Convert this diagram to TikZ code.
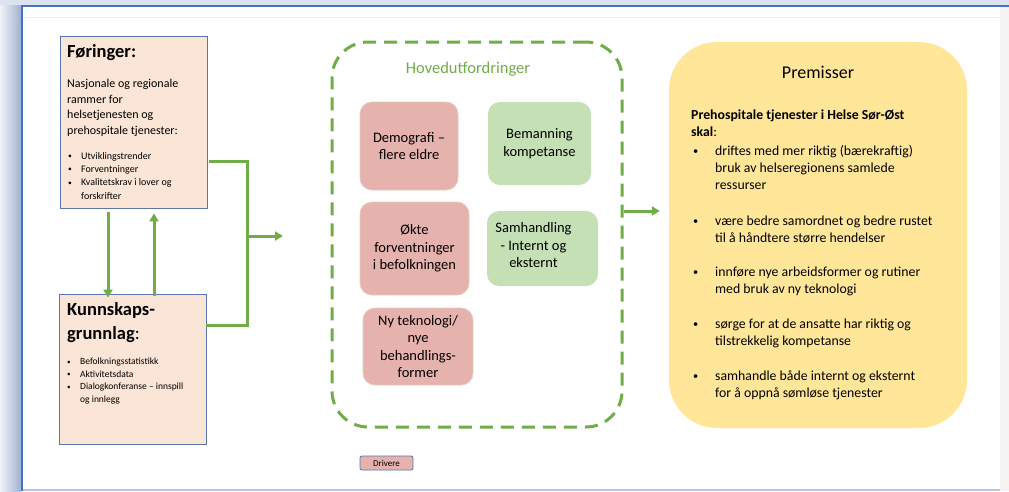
\documentclass[tikz,border=0pt]{standalone}
\usepackage{fontspec}
\setmainfont{Carlito}
\usetikzlibrary{arrows.meta}
\definecolor{grn}{RGB}{112,173,71}
\definecolor{peach}{RGB}{251,229,214}
\definecolor{bluebd}{RGB}{90,118,175}
\definecolor{redbox}{RGB}{229,178,173}
\definecolor{redbd}{RGB}{228,205,190}
\definecolor{greenbox}{RGB}{197,224,180}
\definecolor{yel}{RGB}{255,230,153}
\definecolor{frameblue}{RGB}{68,114,196}
\definecolor{topband}{RGB}{221,227,238}
\definecolor{shadeA}{RGB}{240,243,248}
\definecolor{shadeB}{RGB}{160,177,210}
\definecolor{rightstrip}{RGB}{244,243,241}
\definecolor{botline}{RGB}{180,198,228}
\definecolor{faint}{RGB}{236,236,236}
\newcommand\smallbullet{\raisebox{0.1ex}{\scalebox{0.75}{\textbullet}}}
\newcommand\pbul{\makebox[24pt][l]{\hspace*{2pt}\smallbullet}}
\newcommand\pind{\hspace*{24pt}}
\newcommand\sbul{\makebox[13pt][l]{\smallbullet}}
\newcommand\sind{\hspace*{13pt}}
\begin{document}
\begin{tikzpicture}[x=1pt,y=-1pt,
  conn/.style={grn, line width=3pt},
  arr/.style={conn, -{Triangle[length=8pt,width=9pt]}},
  infobox/.style={draw=bluebd, fill=peach, line width=0.8pt, inner sep=0pt},
  redb/.style={draw=redbd, fill=redbox, line width=0.8pt, rounded corners=12pt, align=center, inner sep=0pt,
    font=\fontsize{14.5}{17.5}\selectfont},
  greenb/.style={fill=greenbox, rounded corners=12pt, align=center, inner sep=0pt,
    font=\fontsize{14.5}{17.5}\selectfont},
  txt/.style={inner sep=0pt, align=left, anchor=north west},
]
\useasboundingbox (0,0) rectangle (1009,491);
% frame
\fill[white] (0,0) rectangle (1009,491);
\fill[topband] (0,0) rectangle (1009,5);
\shade[left color=shadeA, right color=shadeB] (0,5) rectangle (21,491);
\fill[rightstrip] (1000,6) rectangle (1009,491);
\draw[faint, line width=0.8pt] (23,17) -- (1000,17);
\draw[botline, line width=1.5pt] (22,490) -- (1000,490);
\draw[frameblue, line width=2pt] (22,491) -- (22,6) -- (1009,6);

% left boxes
\node[infobox, minimum width=147pt, minimum height=172pt] (for) at (133.5,122) {};
\node[infobox, minimum width=147pt, minimum height=150pt] (kun) at (132.5,369) {};

\node[txt, font=\bfseries\fontsize{18.5}{24}\selectfont] (fortitle) at (67,44) {Føringer:};
\node[txt, font=\fontsize{12}{15.5}\selectfont] (forbody) at (67,79) {Nasjonale og regionale\\rammer for\\helsetjenesten og\\prehospitale tjenester:};
\node[txt, font=\fontsize{10}{13.3}\selectfont] (forlist) at (68,152) {\sbul Utviklingstrender\\\sbul Forventninger\\\sbul Kvalitetskrav i lover og\\\sind forskrifter};

\node[txt, font=\fontsize{18.5}{24}\selectfont] (kuntitle) at (67,302) {\textbf{Kunnskaps-}\\\textbf{grunnlag}:};
\node[txt, font=\fontsize{9.5}{12.5}\selectfont] (kunlist) at (67,358) {\sbul Befolkningsstatistikk\\\sbul Aktivitetsdata\\\sbul Dialogkonferanse – innspill\\\sind og innlegg};

% connectors left
\draw[arr] ([xshift=-25.5pt,yshift=-4pt]for.south) -- ([xshift=-25.5pt,yshift=-4pt]for.south |- kun.north);
\draw[arr] ([xshift=20.5pt,yshift=-2pt]for.south |- kun.north) -- ([xshift=20.5pt,yshift=-5pt]for.south);
\coordinate (j1) at (247,161);
\coordinate (j2) at (247,325);
\coordinate (j3) at (283,236);
\draw[conn] ([xshift=2pt]for.east |- j1) -- (j1) -- (j2) -- (kun.east |- j2);
\draw[arr] (j1 |- j3) -- (j3);

% Hovedutfordringer
\node[draw=grn, line width=3pt, dash pattern=on 13pt off 8pt, rounded corners=36pt,
      minimum width=290pt, minimum height=385pt, inner sep=0pt] (hov) at (477,234.5) {};
\node[grn, font=\fontsize{16.5}{20}\selectfont, inner sep=0pt] (hovtitle) at (468,69) {Hovedutfordringer};

\node[redb, minimum width=98pt, minimum height=88pt] (demo) at (409,146) {Demografi –\\flere eldre};
\node[greenb, minimum width=103pt, minimum height=83pt] (bem) at (539.5,143.5) {Bemanning\\kompetanse};
\node[redb, minimum width=109pt, minimum height=93pt] (okte) at (414.5,248.5) {Økte\\forventninger\\i befolkningen};
\node[greenb, minimum width=111pt, minimum height=75pt] (samh) at (542.5,248.5) {};
\node[inner sep=0pt, align=center, font=\fontsize{14.5}{17.5}\selectfont] (samhtxt) at ([xshift=-9pt,yshift=3pt]samh.center) {Samhandling\\- Internt og\\eksternt};
\node[redb, minimum width=110pt, minimum height=77pt] (nyt) at (418,346.5) {Ny teknologi/\\nye\\behandlings-\\former};

\node[draw=bluebd, fill=redbox, line width=0.8pt, rounded corners=2pt, minimum width=53pt, minimum height=14pt,
      inner sep=0pt, font=\fontsize{9}{11}\selectfont] (driv) at (386.5,463) {Drivere};

% Premisser
\node[fill=yel, rounded corners=48pt, minimum width=298pt, minimum height=386pt, inner sep=0pt] (prem) at (818,235) {};
\node[font=\fontsize{18}{22}\selectfont, inner sep=0pt] (premtitle) at (818,72) {Premisser};
\node[txt, font=\fontsize{13.8}{17}\selectfont] (premtxt) at (691,109.5) {%
\textbf{Prehospitale tjenester i Helse Sør-Øst}\\
\textbf{skal}:\\[2pt]
\pbul driftes med mer riktig (bærekraftig)\\
\pind bruk av helseregionens samlede\\
\pind ressurser\\[19pt]
\pbul være bedre samordnet og bedre rustet\\
\pind til å håndtere større hendelser\\[17pt]
\pbul innføre nye arbeidsformer og rutiner\\
\pind med bruk av ny teknologi\\[18pt]
\pbul sørge for at de ansatte har riktig og\\
\pind tilstrekkelig kompetanse\\[18pt]
\pbul samhandle både internt og eksternt\\
\pind for å oppnå sømløse tjenester};

\coordinate (ya) at (640,211);
\draw[arr] (hov.east |- ya) -- ([xshift=-9pt]prem.west |- ya);
\end{tikzpicture}
\end{document}
